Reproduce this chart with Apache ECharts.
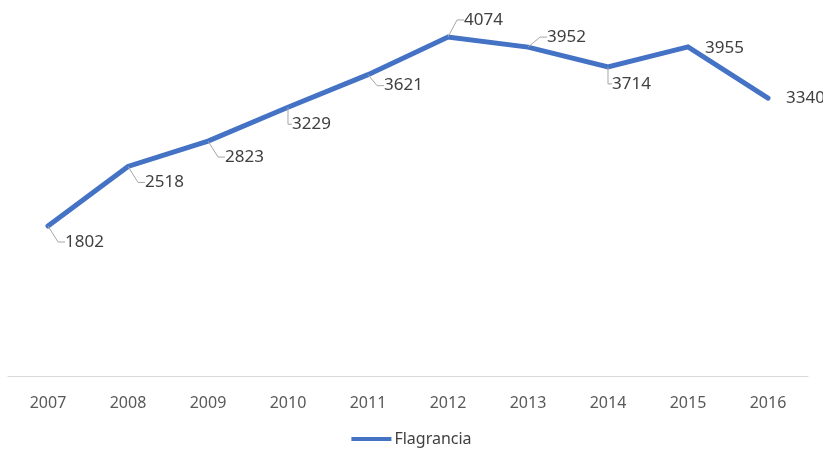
<!DOCTYPE html>
<html>
<head>
<meta charset="utf-8">
<script src="https://cdn.jsdelivr.net/npm/echarts@6/dist/echarts.min.js"></script>
<style>
  html, body { margin: 0; padding: 0; background: #fff; }
  #chart { width: 823px; height: 464px; }
</style>
</head>
<body>
<div id="chart"></div>
<script>
const years = ['2007', '2008', '2009', '2010', '2011', '2012', '2013', '2014', '2015', '2016'];
const flagrancia = [1802, 2518, 2823, 3229, 3621, 4074, 3952, 3714, 3955, 3340];

// label offsets (dx, dy) from each point, and whether a leader line is drawn
const labelDx = [6, 6, 6, -7, 5, 5, 8, -7, 6, 7];
const labelDy = [16, 16, 16, 17, 11, -17, -10, 17, 1, 0];
const leader = [true, true, true, true, true, true, true, true, false, false];

const blue = '#4472c4';
const font = "'Noto Sans', sans-serif";

const chart = echarts.init(document.getElementById('chart'));

chart.setOption({
    animation: false,
    grid: { left: 8, right: 15, top: 1.5, bottom: 88 },
    legend: {
        bottom: 12,
        left: 'center',
        icon: 'rect',
        itemWidth: 40,
        itemHeight: 4,
        itemGap: 4,
        textStyle: { fontFamily: font, fontSize: 16, color: '#404040', padding: [0, 0, 0, -2] },
        data: [{ name: 'Flagrancia', itemStyle: { color: blue } }]
    },
    xAxis: {
        type: 'category',
        data: years,
        boundaryGap: true,
        axisLine: { lineStyle: { color: '#d9d9d9', width: 1 } },
        axisTick: { show: false },
        axisLabel: { color: '#595959', fontFamily: font, fontSize: 16, margin: 19 }
    },
    yAxis: {
        type: 'value',
        min: 0,
        max: 4500,
        show: false,
        splitLine: { show: false }
    },
    series: [{
        name: 'Flagrancia',
        type: 'line',
        showSymbol: true,
        symbol: 'circle',
        symbolSize: 0.1,
        lineStyle: { color: blue, width: 5, cap: 'round', join: 'miter' },
        itemStyle: { color: blue },
        label: {
            show: true,
            position: 'right',
            distance: 5,
            padding: [0, 0, 0, 6],
            color: '#404040',
            fontFamily: font,
            fontSize: 17
        },
        labelLine: {
            show: true,
            length2: 7,
            minTurnAngle: 90,
            lineStyle: { color: '#a6a6a6', width: 1 }
        },
        labelLayout: function (p) {
            return { dx: labelDx[p.dataIndex], dy: labelDy[p.dataIndex] };
        },
        data: flagrancia.map(function (v, i) {
            return { value: v, labelLine: { show: leader[i] } };
        })
    }]
});
</script>
</body>
</html>
